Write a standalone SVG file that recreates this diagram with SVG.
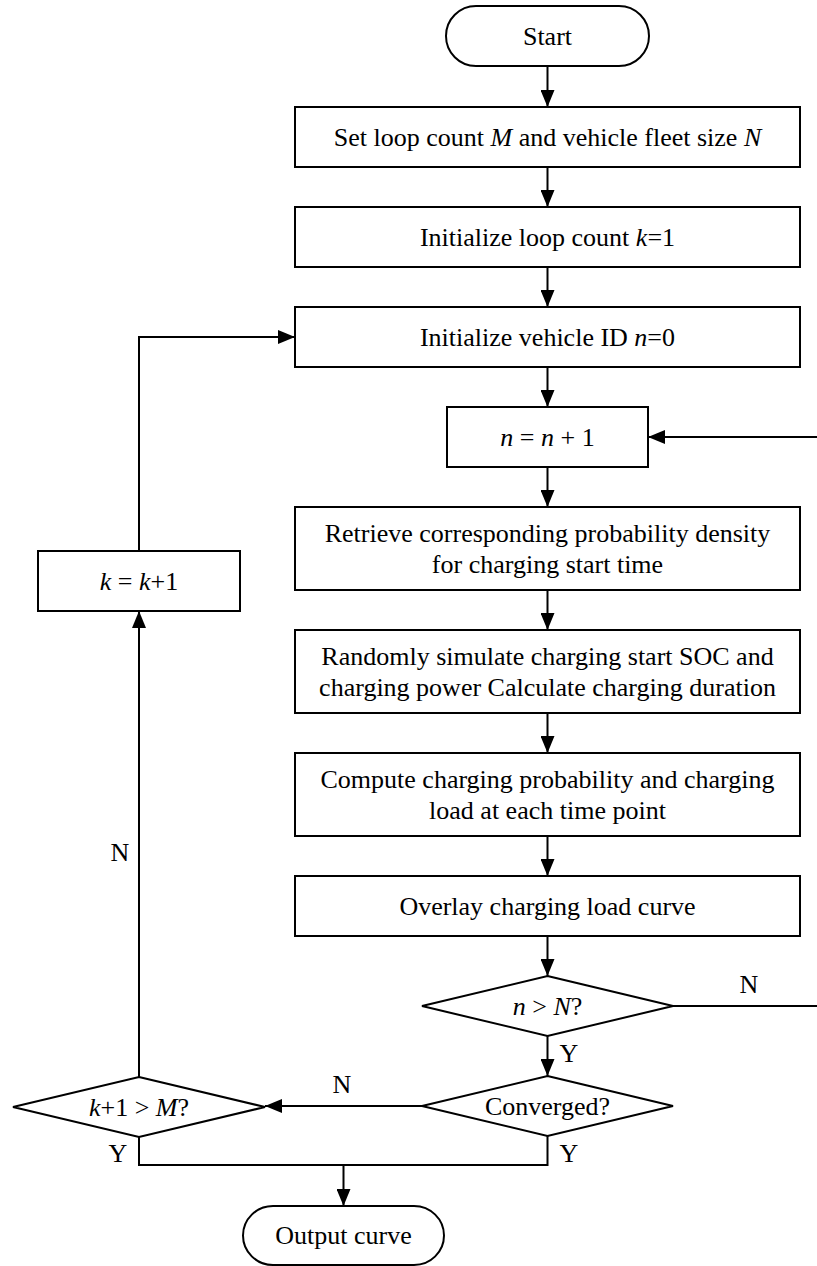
<svg xmlns="http://www.w3.org/2000/svg" width="817" height="1266" viewBox="0 0 817 1266">
<style>
.s{fill:#fff;stroke:#000;stroke-width:2}
.c{fill:none;stroke:#000;stroke-width:2}
text{font-family:"Liberation Serif","Times New Roman",serif;font-size:26px;fill:#000}
.m{text-anchor:middle}
.i{font-style:italic}
</style>
<defs>
<marker id="ah" markerUnits="userSpaceOnUse" markerWidth="17" markerHeight="14" refX="17" refY="7" orient="auto">
<path d="M0,0 L17,7 L0,14 z" fill="#000"/>
</marker>
</defs>
<rect width="817" height="1266" fill="#fff"/>
<g id="connectors">
<path class="c" d="M547.5,66 V107" marker-end="url(#ah)"/>
<path class="c" d="M547.5,167 V207" marker-end="url(#ah)"/>
<path class="c" d="M547.5,267 V307" marker-end="url(#ah)"/>
<path class="c" d="M547.5,367 V407" marker-end="url(#ah)"/>
<path class="c" d="M547.5,467 V507" marker-end="url(#ah)"/>
<path class="c" d="M547.5,590 V630" marker-end="url(#ah)"/>
<path class="c" d="M547.5,713 V753" marker-end="url(#ah)"/>
<path class="c" d="M547.5,836 V876" marker-end="url(#ah)"/>
<path class="c" d="M547.5,936 V976" marker-end="url(#ah)"/>
<path class="c" d="M547.5,1036 V1076" marker-end="url(#ah)"/>
<path class="c" d="M673,1006 H819 V437 H648" marker-end="url(#ah)"/>
<path class="c" d="M422,1106 H265" marker-end="url(#ah)"/>
<path class="c" d="M139,1077 V611" marker-end="url(#ah)"/>
<path class="c" d="M139,551 V337 H295" marker-end="url(#ah)"/>
<path class="c" d="M139,1136 V1165 H547.5 V1136"/>
<path class="c" d="M343.5,1165 V1206" marker-end="url(#ah)"/>
<text class="m" x="569" y="1062">Y</text>
<text class="m" x="749" y="993">N</text>
<text class="m" x="342" y="1093">N</text>
<text class="m" x="120" y="861">N</text>
<text class="m" x="118" y="1162">Y</text>
<text class="m" x="569" y="1162">Y</text>
</g>
<g id="start">
<rect class="s" x="446" y="6" width="203" height="60" rx="30" ry="30"/>
<text class="m" x="547.5" y="45">Start</text>
</g>
<g id="set-loop">
<rect class="s" x="295" y="107" width="505" height="60"/>
<text class="m" x="547.5" y="146">Set loop count <tspan class="i">M</tspan> and vehicle fleet size <tspan class="i">N</tspan></text>
</g>
<g id="init-k">
<rect class="s" x="295" y="207" width="505" height="60"/>
<text class="m" x="547.5" y="246">Initialize loop count <tspan class="i">k</tspan>=1</text>
</g>
<g id="init-n">
<rect class="s" x="295" y="307" width="505" height="60"/>
<text class="m" x="547.5" y="346">Initialize vehicle ID <tspan class="i">n</tspan>=0</text>
</g>
<g id="n-inc">
<rect class="s" x="447" y="407" width="201" height="60"/>
<text class="m" x="547.5" y="446"><tspan class="i">n</tspan> = <tspan class="i">n</tspan> + 1</text>
</g>
<g id="retrieve">
<rect class="s" x="295" y="507" width="505" height="83"/>
<text class="m" x="547.5" y="542">Retrieve corresponding probability density</text>
<text class="m" x="547.5" y="573">for charging start time</text>
</g>
<g id="simulate">
<rect class="s" x="295" y="630" width="505" height="83"/>
<text class="m" x="547.5" y="665">Randomly simulate charging start SOC and</text>
<text class="m" x="547.5" y="696">charging power Calculate charging duration</text>
</g>
<g id="compute">
<rect class="s" x="295" y="753" width="505" height="83"/>
<text class="m" x="547.5" y="788">Compute charging probability and charging</text>
<text class="m" x="547.5" y="819">load at each time point</text>
</g>
<g id="overlay">
<rect class="s" x="295" y="876" width="505" height="60"/>
<text class="m" x="547.5" y="915">Overlay charging load curve</text>
</g>
<g id="n-check">
<polygon class="s" points="547.5,976 673,1006 547.5,1036 422,1006"/>
<text class="m" x="547.5" y="1015"><tspan class="i">n</tspan> &gt; <tspan class="i">N</tspan>?</text>
</g>
<g id="converged">
<polygon class="s" points="547.5,1076 673,1106 547.5,1136 422,1106"/>
<text class="m" x="547.5" y="1115">Converged?</text>
</g>
<g id="k-check">
<polygon class="s" points="139,1077 265,1107 139,1137 13,1107"/>
<text class="m" x="139" y="1116"><tspan class="i">k</tspan>+1 &gt; <tspan class="i">M</tspan>?</text>
</g>
<g id="k-inc">
<rect class="s" x="38" y="551" width="202" height="60"/>
<text class="m" x="139" y="590"><tspan class="i">k</tspan> = <tspan class="i">k</tspan>+1</text>
</g>
<g id="output">
<rect class="s" x="243" y="1206" width="201" height="59" rx="30" ry="30"/>
<text class="m" x="343.5" y="1244">Output curve</text>
</g>
</svg>
